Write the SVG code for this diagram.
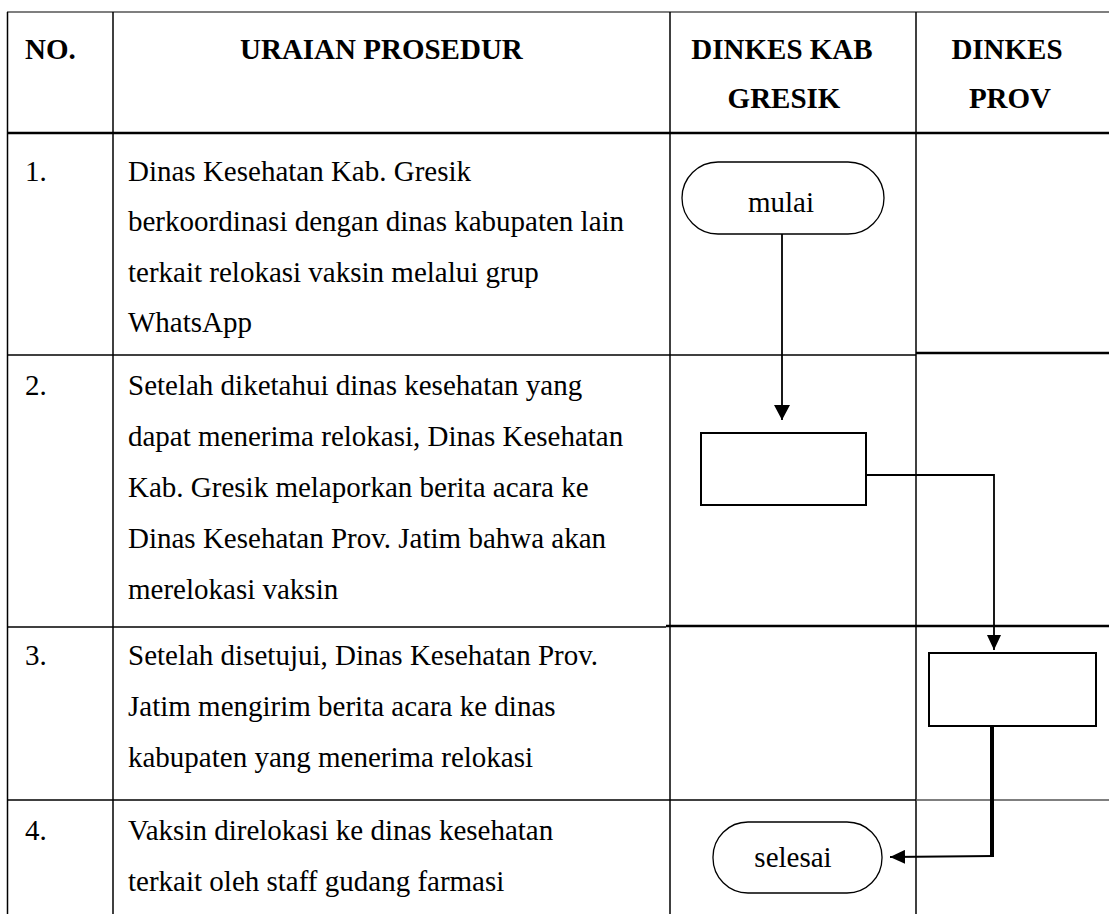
<svg xmlns="http://www.w3.org/2000/svg" width="1109" height="914" viewBox="0 0 1109 914">
<defs>
<style>
.t{font-family:"Liberation Serif","Times New Roman",serif;font-size:29px;fill:#000}
.h{font-family:"Liberation Serif","Times New Roman",serif;font-size:29px;font-weight:bold;fill:#000}
.g{stroke:#000;stroke-width:1.5;fill:none}
.gg{stroke:#555;stroke-width:1.5;fill:none}
.gt{stroke:#000;stroke-width:2.5;fill:none}
.term{fill:#fff;stroke:#000;stroke-width:1.3}
.box{fill:#fff;stroke:#000;stroke-width:2}
.c{stroke:#000;stroke-width:1.8;fill:none}
</style>
<marker id="ah" markerWidth="16" markerHeight="16" refX="15" refY="8" orient="auto" markerUnits="userSpaceOnUse">
<path d="M0,0 L15,8 L0,16 Z" fill="#000"/>
</marker>
<marker id="ah2" markerWidth="16" markerHeight="14" refX="15" refY="7" orient="auto" markerUnits="userSpaceOnUse">
<path d="M0,0 L15,7 L0,14 Z" fill="#000"/>
</marker>
</defs>
<rect width="1109" height="914" fill="#fff"/>
<g id="table">
<line class="gg" x1="7" y1="12" x2="1109" y2="12"/>
<line class="g" x1="7.5" y1="12" x2="7.5" y2="914"/>
<line class="g" x1="113" y1="12" x2="113" y2="914"/>
<line class="g" x1="670" y1="12" x2="670" y2="914"/>
<line class="g" x1="916" y1="12" x2="916" y2="914"/>
<line class="gt" x1="7" y1="133" x2="1109" y2="133"/>
<line class="g" x1="7" y1="355" x2="916" y2="355"/>
<line class="gt" x1="916" y1="353" x2="1109" y2="353"/>
<line class="g" x1="7" y1="627" x2="666" y2="627"/>
<line class="gt" x1="666" y1="626" x2="1109" y2="626"/>
<line class="g" x1="7" y1="800" x2="916" y2="800"/>
<line class="gg" x1="916" y1="800" x2="1109" y2="800"/>
</g>
<g id="header">
<text class="h" x="25" y="59">NO.</text>
<text class="h" x="240" y="59">URAIAN PROSEDUR</text>
<text class="h" x="782" y="59" text-anchor="middle">DINKES KAB</text>
<text class="h" x="784" y="108" text-anchor="middle">GRESIK</text>
<text class="h" x="1007" y="59" text-anchor="middle">DINKES</text>
<text class="h" x="1010" y="108" text-anchor="middle">PROV</text>
</g>
<g id="row1">
<text class="t" x="25" y="181">1.</text>
<text class="t" x="128" y="181">Dinas Kesehatan Kab. Gresik</text>
<text class="t" x="128" y="231">berkoordinasi dengan dinas kabupaten lain</text>
<text class="t" x="128" y="282">terkait relokasi vaksin melalui grup</text>
<text class="t" x="128" y="332">WhatsApp</text>
</g>
<g id="row2">
<text class="t" x="25" y="395">2.</text>
<text class="t" x="128" y="395">Setelah diketahui dinas kesehatan yang</text>
<text class="t" x="128" y="446">dapat menerima relokasi, Dinas Kesehatan</text>
<text class="t" x="128" y="497">Kab. Gresik melaporkan berita acara ke</text>
<text class="t" x="128" y="548">Dinas Kesehatan Prov. Jatim bahwa akan</text>
<text class="t" x="128" y="599">merelokasi vaksin</text>
</g>
<g id="row3">
<text class="t" x="25" y="665">3.</text>
<text class="t" x="128" y="665">Setelah disetujui, Dinas Kesehatan Prov.</text>
<text class="t" x="128" y="716">Jatim mengirim berita acara ke dinas</text>
<text class="t" x="128" y="767">kabupaten yang menerima relokasi</text>
</g>
<g id="row4">
<text class="t" x="25" y="840">4.</text>
<text class="t" x="128" y="840">Vaksin direlokasi ke dinas kesehatan</text>
<text class="t" x="128" y="891">terkait oleh staff gudang farmasi</text>
</g>
<g id="mulai">
<rect class="term" x="682" y="162" width="202" height="72" rx="36" ry="36"/>
<text class="t" x="781" y="212" text-anchor="middle">mulai</text>
</g>
<g id="proses1">
<rect class="box" x="701" y="433" width="165" height="72"/>
</g>
<g id="proses2">
<rect class="box" x="929" y="653" width="167" height="73"/>
</g>
<g id="selesai">
<rect class="term" x="713" y="822" width="169" height="71" rx="35" ry="35"/>
<text class="t" x="793" y="867" text-anchor="middle">selesai</text>
</g>
<g id="connectors">
<line class="c" x1="782" y1="234" x2="782" y2="420" marker-end="url(#ah)"/>
<polyline class="c" points="866,475 994,475 994,650" marker-end="url(#ah2)"/>
<line stroke="#000" stroke-width="4" x1="992" y1="726" x2="992" y2="857"/>
<polyline class="c" points="994,856 890,857" marker-end="url(#ah2)"/>
</g>
</svg>
